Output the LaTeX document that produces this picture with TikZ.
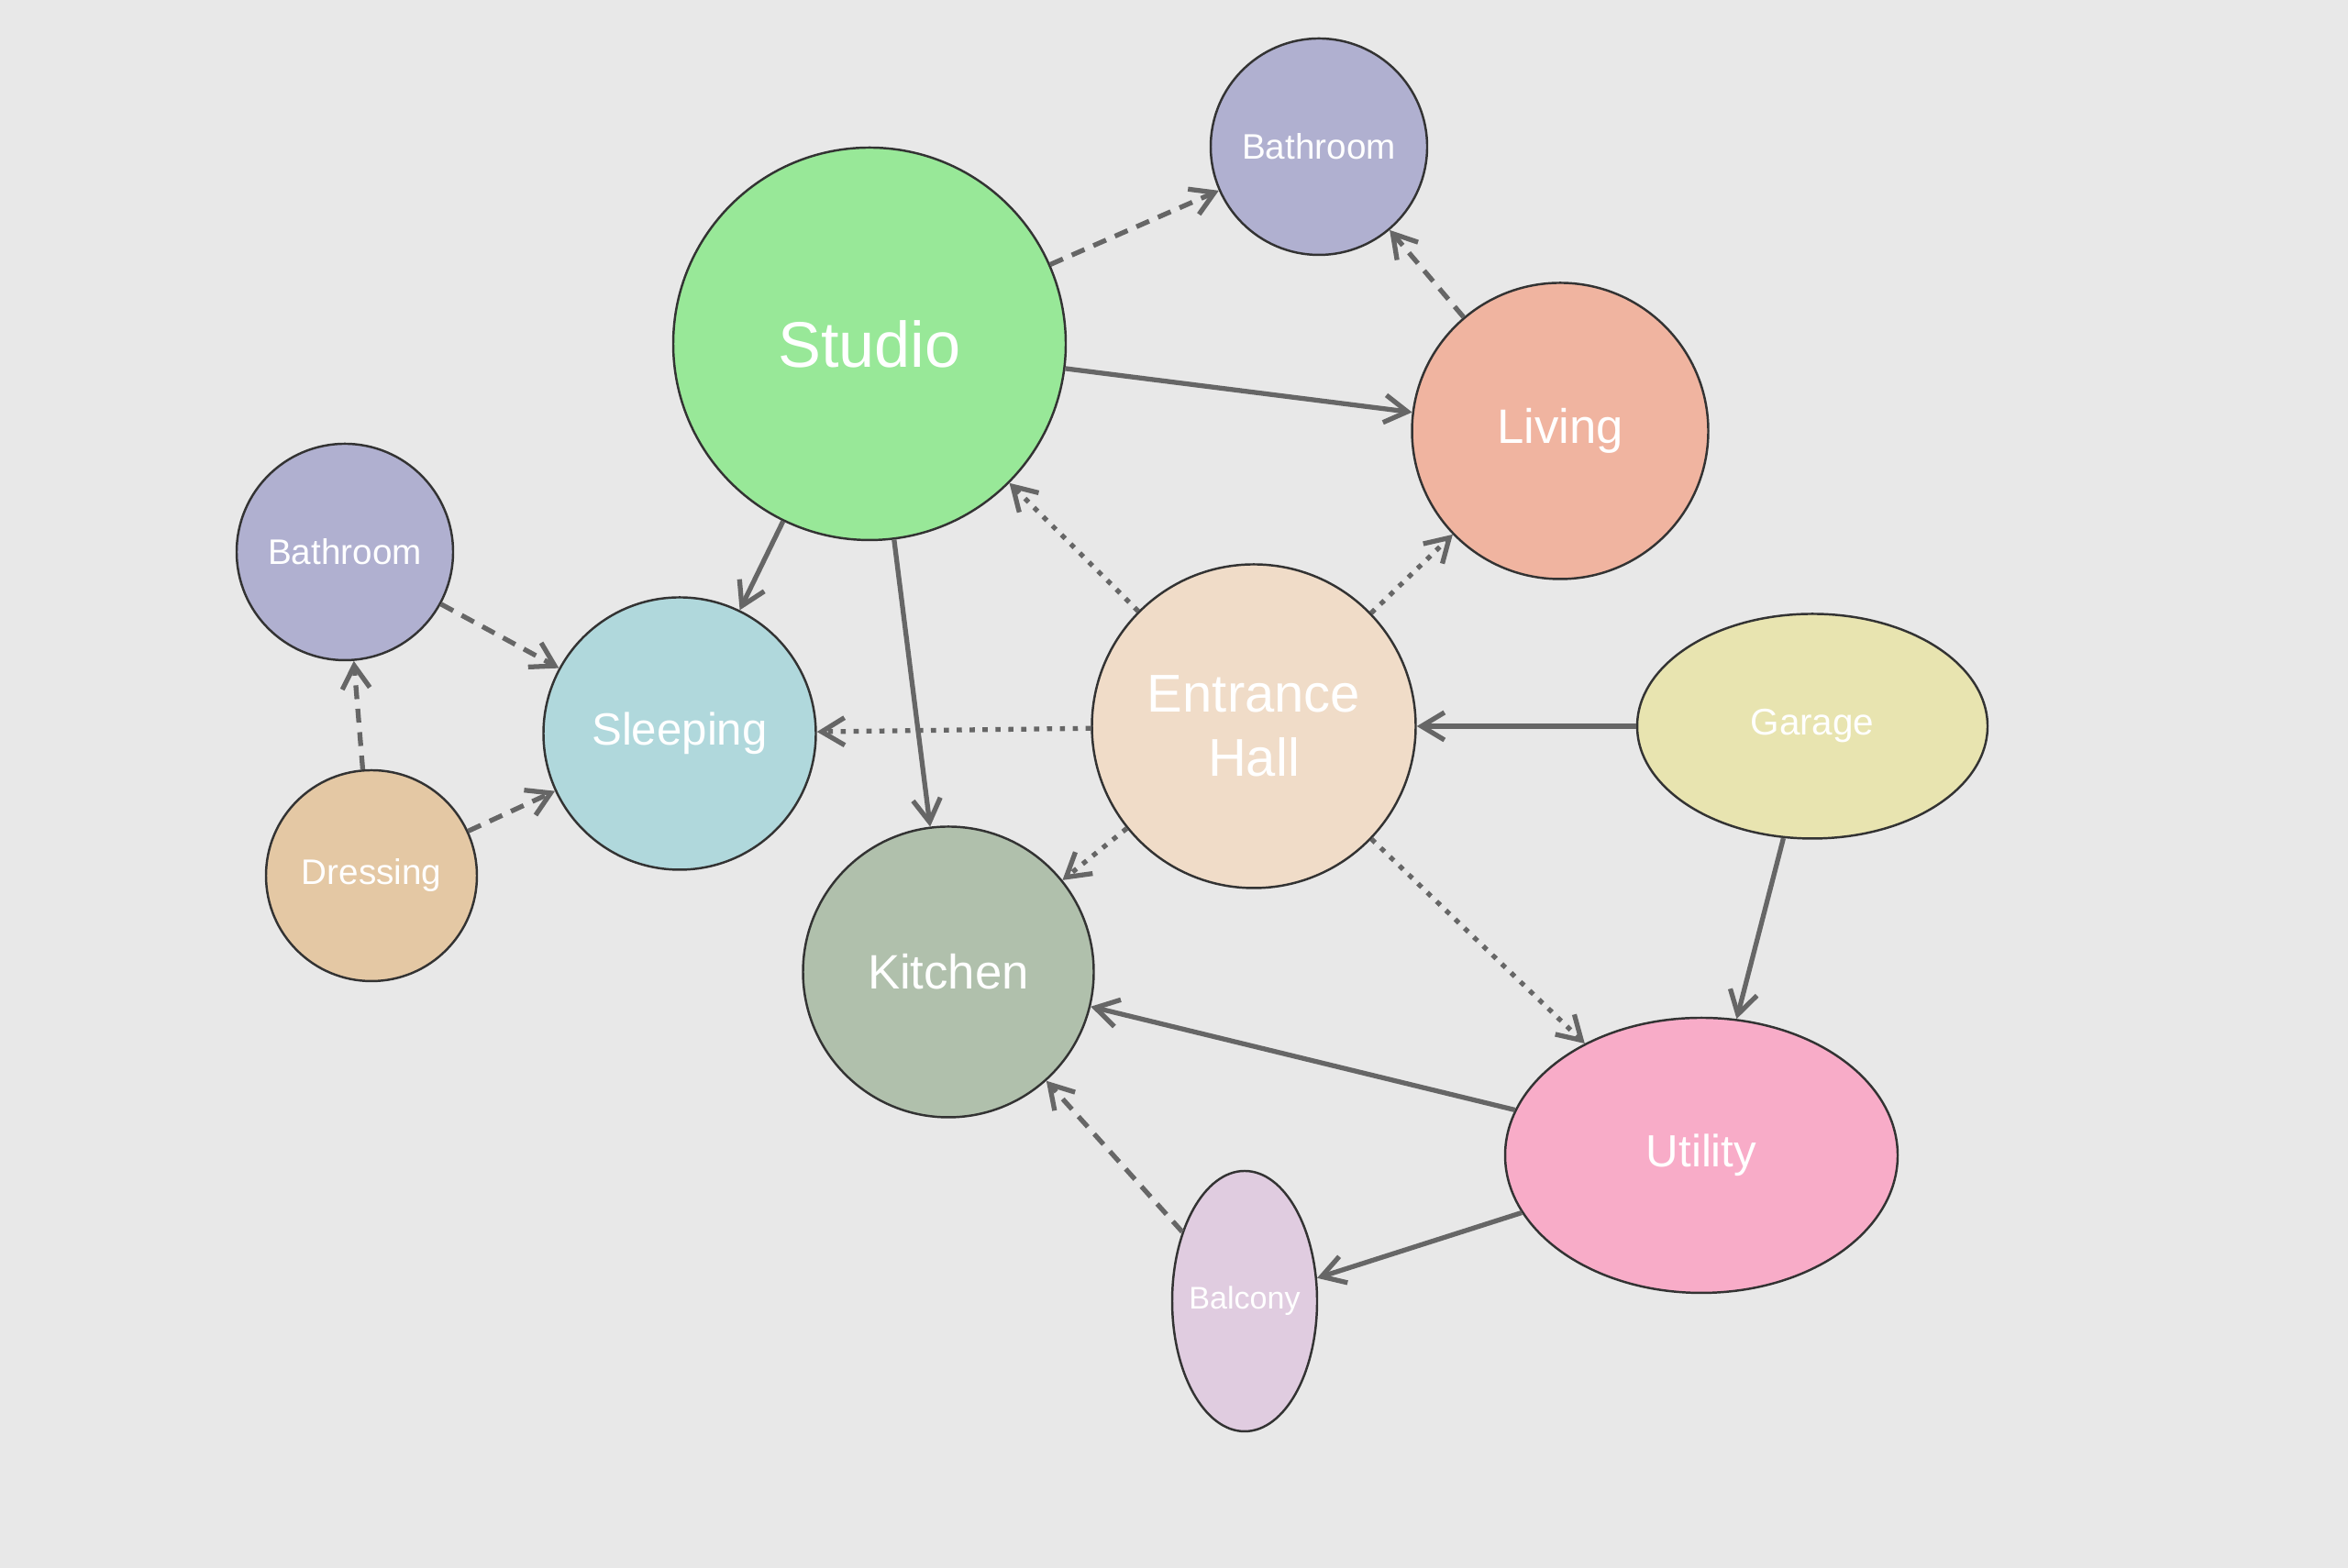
\documentclass[tikz,border=0pt]{standalone}
\usepackage{fontspec}
\setmainfont{Liberation Sans}
\usepackage{tikz}
\usetikzlibrary{shapes.geometric, arrows.meta}
\usepackage{xcolor}

\definecolor{bgcol}{HTML}{E8E8E8}
\definecolor{edgecol}{HTML}{666666}
\definecolor{studiocol}{HTML}{98E898}
\definecolor{bathcol}{HTML}{B0B0D0}
\definecolor{livingcol}{HTML}{F0B4A0}
\definecolor{sleepcol}{HTML}{B0D8DC}
\definecolor{hallcol}{HTML}{F0DCC8}
\definecolor{garagecol}{HTML}{E8E4B0}
\definecolor{dresscol}{HTML}{E4C8A4}
\definecolor{kitchencol}{HTML}{B0C0AC}
\definecolor{utilcol}{HTML}{F8ACC8}
\definecolor{balcol}{HTML}{E0CCE0}

\begin{document}
\begin{tikzpicture}[
        room/.style={circle, draw=black!80, line width=0.7pt, inner sep=0pt, text=white, align=center},
        oval/.style={ellipse, draw=black!80, line width=0.7pt, inner sep=0pt, text=white, align=center},
        link/.style={-{Straight Barb[length=2.5mm, width=3mm]}, line width=1.5pt, draw=edgecol},
        linkdash/.style={link, dash pattern=on 4.3pt off 3pt},
        linkdot/.style={link, dash pattern=on 1.6pt off 2.4pt}
    ]
        \useasboundingbox (0, 0) rectangle (25.6, 17.1);
        \fill [bgcol] (0, 0) rectangle (25.6, 17.1);

        % Habitaciones
        \node [room, fill=studiocol, minimum size=4.28cm, font=\fontsize{20}{24}\selectfont] (studio) at (9.48, 13.35) {Studio};
        \node [room, fill=bathcol, minimum size=2.36cm, font=\fontsize{11}{13}\selectfont] (bathtop) at (14.38, 15.50) {Bathroom};
        \node [room, fill=livingcol, minimum size=3.23cm, font=\fontsize{15}{18}\selectfont] (living) at (17.01, 12.40) {Living};
        \node [room, fill=bathcol, minimum size=2.36cm, font=\fontsize{11}{13}\selectfont] (bathleft) at (3.76, 11.08) {Bathroom};
        \node [room, fill=sleepcol, minimum size=2.97cm, font=\fontsize{14}{17}\selectfont] (sleeping) at (7.41, 9.10) {Sleeping};
        \node [room, fill=hallcol, minimum size=3.53cm, font=\fontsize{16.5}{20}\selectfont] (hall) at (13.67, 9.18) {Entrance\\Hall};
        \node [oval, fill=garagecol, minimum width=3.82cm, minimum height=2.45cm, font=\fontsize{11.5}{14}\selectfont] (garage) at (19.76, 9.18) {Garage};
        \node [room, fill=dresscol, minimum size=2.30cm, font=\fontsize{11}{13}\selectfont] (dressing) at (4.05, 7.55) {Dressing};
        \node [room, fill=kitchencol, minimum size=3.17cm, font=\fontsize{15}{18}\selectfont] (kitchen) at (10.34, 6.50) {Kitchen};
        \node [oval, fill=utilcol, minimum width=4.28cm, minimum height=3.00cm, font=\fontsize{14}{17}\selectfont] (utility) at (18.55, 4.50) {Utility};
        \node [oval, fill=balcol, inner xsep=-4pt, minimum width=1.58cm, minimum height=2.84cm, font=\fontsize{9.7}{12}\selectfont] (balcony) at (13.57, 2.91) {Balcony};

        % Conexiones directas
        \draw [link] (studio) -- (living);
        \draw [link] (studio) -- (sleeping);
        \draw [link] (studio) -- (kitchen);
        \draw [link] (garage) -- (hall);
        \draw [link] (garage) -- (utility);
        \draw [link] (utility) -- (kitchen);
        \draw [link] (utility) -- (balcony);

        % Conexiones secundarias (discontinuas)
        \draw [linkdash] (studio) -- (bathtop);
        \draw [linkdash] (living) -- (bathtop);
        \draw [linkdash] (bathleft) -- (sleeping);
        \draw [linkdash] (dressing) -- (sleeping);
        \draw [linkdash] (dressing) -- (bathleft);
        \draw [linkdash] (balcony) -- (kitchen);

        % Desde el recibidor (punteadas)
        \draw [linkdot] (hall) -- (studio);
        \draw [linkdot] (hall) -- (living);
        \draw [linkdot] (hall) -- (sleeping);
        \draw [linkdot] (hall) -- (kitchen);
        \draw [linkdot] (hall) -- (utility);
    \end{tikzpicture}
\end{document}
